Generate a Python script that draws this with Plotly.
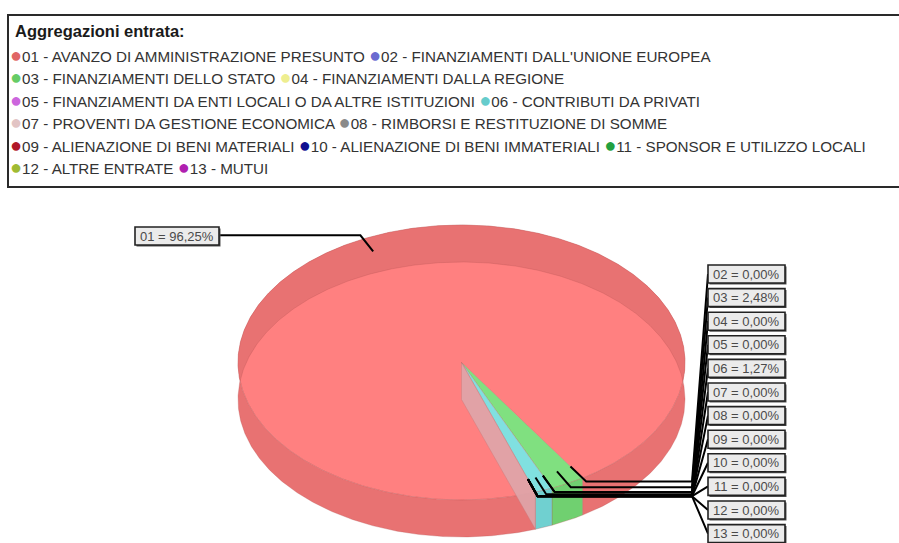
import numpy as np
import plotly.graph_objects as go

# ---------------- data ----------------
codes = ["01", "02", "03", "04", "05", "06", "07", "08", "09", "10", "11", "12", "13"]
names = [
    "AVANZO DI AMMINISTRAZIONE PRESUNTO",
    "FINANZIAMENTI DALL'UNIONE EUROPEA",
    "FINANZIAMENTI DELLO STATO",
    "FINANZIAMENTI DALLA REGIONE",
    "FINANZIAMENTI DA ENTI LOCALI O DA ALTRE ISTITUZIONI",
    "CONTRIBUTI DA PRIVATI",
    "PROVENTI DA GESTIONE ECONOMICA",
    "RIMBORSI E RESTITUZIONE DI SOMME",
    "ALIENAZIONE DI BENI MATERIALI",
    "ALIENAZIONE DI BENI IMMATERIALI",
    "SPONSOR E UTILIZZO LOCALI",
    "ALTRE ENTRATE",
    "MUTUI",
]
values = [96.25, 0.00, 2.48, 0.00, 0.00, 1.27, 0.00, 0.00, 0.00, 0.00, 0.00, 0.00, 0.00]
legend_title = "Aggregazioni entrata:"
legend_rows = [[0, 1], [2, 3], [4, 5], [6, 7], [8, 9, 10], [11, 12]]

# ---------------- styles ----------------
legend_colors = ["#e06666", "#6b6bd0", "#66cc66", "#eeee90", "#cc66dd", "#66cccc",
                 "#e2c4c4", "#8a8a8a", "#b01828", "#101090", "#22a040", "#a0bb33", "#b020b0"]
face_colors = ["#ff8080", "#8080ff", "#80e080", "#ffff80", "#e080e0", "#80e0e0",
               "#f0c0c0", "#a0a0a0", "#c02030", "#2020a0", "#30b040", "#b0c840", "#c030c0"]
wall_colors = ["#e87272", "#7070e0", "#70d070", "#e8e870", "#d070d0", "#70d0d0",
               "#e0b0b0", "#909090", "#a01828", "#181890", "#28a038", "#a0b838", "#b028b0"]

W, H = 899, 543
CX, CY, RX, RY, DEPTH = 461.5, 362.5, 223.5, 137.5, 37.0
START_DEG = 70.7
FONT = "Liberation Sans, Arial, sans-serif"


def ell(theta_deg, scale=1.0, dy=0.0):
    t = np.radians(theta_deg)
    return CX + RX * scale * np.cos(t), CY + RY * scale * np.sin(t) + dy


vals = np.array(values, dtype=float)
spans = vals / vals.sum() * 360.0
starts = START_DEG + np.concatenate([[0.0], np.cumsum(spans)[:-1]])
mids = starts + spans / 2.0

fig = go.Figure()

# top faces
for i in range(len(vals)):
    if spans[i] <= 0:
        continue
    th = np.linspace(starts[i], starts[i] + spans[i], max(4, int(spans[i] * 2)))
    ax, ay = ell(th)
    xs = np.concatenate([[CX], ax, [CX]])
    ys = np.concatenate([[CY], ay, [CY]])
    fig.add_trace(go.Scatter(x=xs, y=ys, mode="lines", fill="toself",
                             fillcolor=face_colors[i],
                             line=dict(color="rgba(190,90,90,0.35)", width=0.8),
                             hoverinfo="skip", showlegend=False))

# outer walls
for i in range(len(vals)):
    if spans[i] <= 0:
        continue
    th = np.linspace(starts[i], starts[i] + spans[i], max(4, int(spans[i] * 2)))
    tx, ty = ell(th)
    bx, by = ell(th[::-1], dy=DEPTH)
    xs = np.concatenate([tx, bx, tx[:1]])
    ys = np.concatenate([ty, by, ty[:1]])
    fig.add_trace(go.Scatter(x=xs, y=ys, mode="lines", fill="toself",
                             fillcolor=wall_colors[i],
                             line=dict(color="rgba(180,80,80,0.35)", width=0.8),
                             hoverinfo="skip", showlegend=False))

# translucent cut face at the start edge of the first slice
rx0, ry0 = ell(starts[0])
fig.add_trace(go.Scatter(
    x=[CX, CX, rx0, rx0, CX], y=[CY, CY + DEPTH, ry0 + DEPTH, ry0, CY],
    mode="lines", fill="toself", fillcolor="rgba(222,165,170,0.9)",
    line=dict(color="rgba(200,120,120,0.5)", width=0.8),
    hoverinfo="skip", showlegend=False))

# ---------------- labels & leader lines ----------------
LEFT_BOX_RIGHT = 219
LEFT_BOX_Y = 236
RIGHT_BOX_LEFT = 708
RIGHT_TOP = 274
RIGHT_STEP = 23.6
FAN_X = 692
BOX_H = 18

label_texts = [f"{c} = {v:.2f}%".replace(".", ",") for c, v in zip(codes, values)]

lx, ly = [], []
right_k = 0
shapes = []
annotations = []
for i in range(len(vals)):
    pin = ell(mids[i], 0.9)
    pel = ell(mids[i], 1.03)
    bw = 7 * len(label_texts[i]) + 7
    if pel[0] < CX:
        lx += [pin[0], pel[0], LEFT_BOX_RIGHT, None]
        ly += [pin[1], pel[1], pel[1], None]
        x0, x1 = LEFT_BOX_RIGHT - bw, LEFT_BOX_RIGHT
        yc = LEFT_BOX_Y
    else:
        yc = RIGHT_TOP + RIGHT_STEP * right_k
        right_k += 1
        lx += [pin[0], pel[0], FAN_X, RIGHT_BOX_LEFT, None]
        ly += [pin[1], pel[1], pel[1], yc, None]
        x0, x1 = RIGHT_BOX_LEFT, RIGHT_BOX_LEFT + bw
    # shadow + box
    shapes.append(dict(type="rect", x0=x0 + 1.5, x1=x1 + 1.5, y0=yc - BOX_H / 2 + 1.5,
                       y1=yc + BOX_H / 2 + 1.5, xref="x", yref="y",
                       fillcolor="#555555", line=dict(width=0), layer="above"))
    shapes.append(dict(type="rect", x0=x0, x1=x1, y0=yc - BOX_H / 2, y1=yc + BOX_H / 2,
                       xref="x", yref="y", fillcolor="#ebebeb",
                       line=dict(color="#222222", width=1.6), layer="above"))
    annotations.append(dict(x=(x0 + x1) / 2, y=yc, xref="x", yref="y", text=label_texts[i],
                            showarrow=False, xanchor="center", yanchor="middle",
                            font=dict(family=FONT, size=13, color="#4a4a4a")))

fig.add_trace(go.Scatter(x=lx, y=ly, mode="lines", line=dict(color="black", width=2),
                         hoverinfo="skip", showlegend=False))

# ---------------- legend box ----------------
shapes.append(dict(type="rect", x0=8, x1=906, y0=15, y1=187, xref="x", yref="y",
                   fillcolor="rgba(0,0,0,0)", line=dict(color="#2a2a2a", width=2),
                   layer="above"))
annotations.append(dict(x=13, y=31, xref="x", yref="y", text=f"<b>{legend_title}</b>",
                        showarrow=False, xanchor="left", yanchor="middle",
                        font=dict(family=FONT, size=16.5, color="#1a1a1a")))
ROW_Y = [55, 77, 99.5, 122, 144.5, 167]
for r, row in enumerate(legend_rows):
    parts = []
    for i in row:
        parts.append(f'<span style="color:{legend_colors[i]};font-size:20px">●</span>'
                     f'{codes[i]} - {names[i]}')
    annotations.append(dict(x=8, y=ROW_Y[r], xref="x", yref="y", text=" ".join(parts),
                            showarrow=False, xanchor="left", yanchor="middle",
                            font=dict(family=FONT, size=15.2, color="#333333")))

fig.update_layout(
    width=W, height=H,
    margin=dict(l=0, r=0, t=0, b=0),
    paper_bgcolor="white", plot_bgcolor="white",
    xaxis=dict(range=[0, W], visible=False, fixedrange=True),
    yaxis=dict(range=[H, 0], visible=False, fixedrange=True),
    shapes=shapes, annotations=annotations,
    showlegend=False,
)

fig.write_html("out.html", config=dict(displayModeBar=False),
               post_script="document.body.style.margin='0';document.body.style.overflow='hidden';")
